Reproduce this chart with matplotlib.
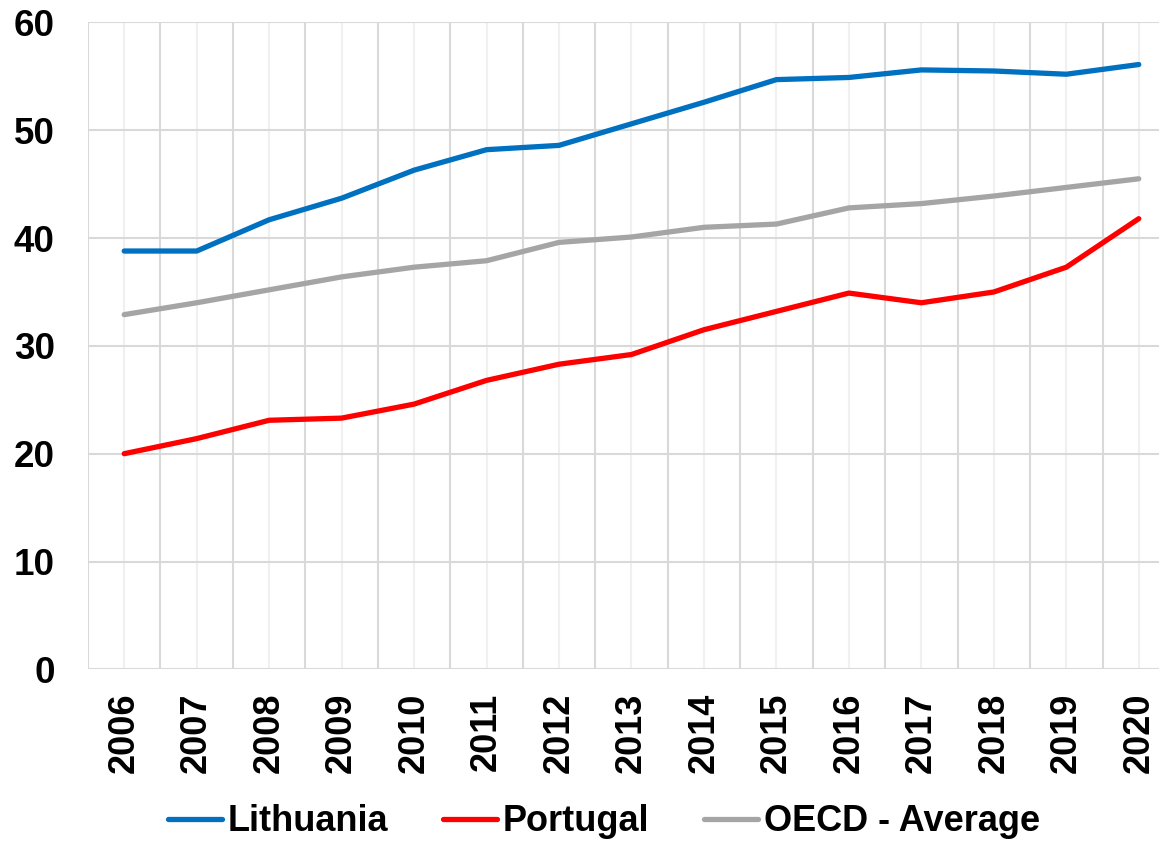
import matplotlib.pyplot as plt
import numpy as np

plt.rcParams['font.family'] = ['Liberation Sans', 'DejaVu Sans']
plt.rcParams['font.weight'] = 'bold'

# data
years = ['2006', '2007', '2008', '2009', '2010', '2011', '2012', '2013',
         '2014', '2015', '2016', '2017', '2018', '2019', '2020']
lithuania = [38.8, 38.8, 41.7, 43.7, 46.3, 48.2, 48.6, 50.6, 52.6, 54.7,
             54.9, 55.6, 55.5, 55.2, 56.1]
portugal = [20.0, 21.4, 23.1, 23.3, 24.6, 26.8, 28.3, 29.2, 31.5, 33.2,
            34.9, 34.0, 35.0, 37.3, 41.8]
oecd = [32.9, 34.0, 35.2, 36.4, 37.3, 37.9, 39.6, 40.1, 41.0, 41.3,
        42.8, 43.2, 43.9, 44.7, 45.5]

fig = plt.figure(figsize=(11.59, 8.42), dpi=100)
# plot area runs past the right edge, as in the reference
ax = fig.add_axes([0.0759, 0.2051, 0.9379, 0.7682])

x = np.arange(len(years))
lw = 3.8
l1, = ax.plot(x, lithuania, color='#0070C0', lw=lw, solid_capstyle='round', label='Lithuania')
l2, = ax.plot(x, portugal, color='#FF0000', lw=lw, solid_capstyle='round', label='Portugal')
l3, = ax.plot(x, oecd, color='#A5A5A5', lw=lw, solid_capstyle='round', label='OECD - Average')

ax.set_xlim(-0.5, len(years) - 0.5)
ax.set_ylim(0, 60)
ax.set_yticks(np.arange(0, 61, 10))
ax.set_xticks(x)
ax.set_xticklabels(years, rotation=90, fontsize=26, fontweight='bold')
ax.set_xticks(np.arange(-0.5, len(years), 1), minor=True)
ax.tick_params(axis='y', labelsize=26.5, length=0, pad=24)
ax.tick_params(axis='x', which='both', length=0, pad=17)
for lab in ax.get_yticklabels():
    lab.set_fontweight('bold')

ax.grid(axis='y', color='#D9D9D9', lw=1.5)
ax.grid(axis='x', which='major', color='#F0F0F0', lw=1.5)
ax.grid(axis='x', which='minor', color='#D9D9D9', lw=1.5)
ax.set_axisbelow(True)
for s in ax.spines.values():
    s.set_visible(False)

fig.legend(handles=[l1, l2, l3], loc='center', bbox_to_anchor=(0.521, 0.024),
           ncol=3, frameon=False, fontsize=26, handlelength=1.5,
           handletextpad=0.17, columnspacing=1.5, borderaxespad=0)

fig.savefig('out.png', dpi=100)
